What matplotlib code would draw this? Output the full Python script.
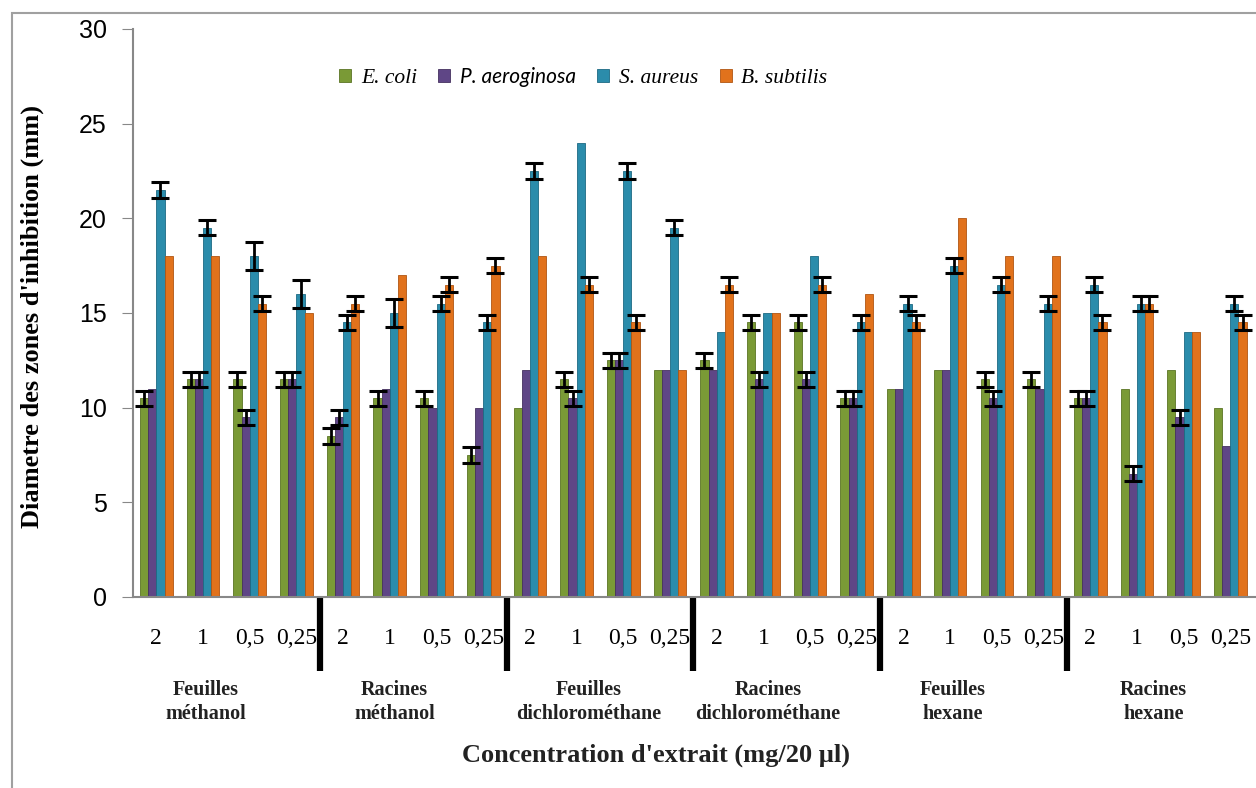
import numpy as np
import matplotlib
matplotlib.use("Agg")
import matplotlib.pyplot as plt
from matplotlib.patches import Rectangle

# donnees (diametre en mm)
concentrations = ['2', '1', '0,5', '0,25'] * 6
extraits = ['Feuilles\nméthanol', 'Racines\nméthanol', 'Feuilles\ndichlorométhane',
            'Racines\ndichlorométhane', 'Feuilles\nhexane', 'Racines\nhexane']
souches = ['E. coli', 'P. aeroginosa', 'S. aureus', 'B. subtilis']

e_coli = [10.5, 11.5, 11.5, 11.5, 8.5, 10.5, 10.5, 7.5, 10, 11.5, 12.5, 12,
          12.5, 14.5, 14.5, 10.5, 11, 12, 11.5, 11.5, 10.5, 11, 12, 10]
p_aeroginosa = [11, 11.5, 9.5, 11.5, 9.5, 11, 10, 10, 12, 10.5, 12.5, 12,
                12, 11.5, 11.5, 10.5, 11, 12, 10.5, 11, 10.5, 6.5, 9.5, 8]
s_aureus = [21.5, 19.5, 18, 16, 14.5, 15, 15.5, 14.5, 22.5, 24, 22.5, 19.5,
            14, 15, 18, 14.5, 15.5, 17.5, 16.5, 15.5, 16.5, 15.5, 14, 15.5]
b_subtilis = [18, 18, 15.5, 15, 15.5, 17, 16.5, 17.5, 18, 16.5, 14.5, 12,
              16.5, 15, 16.5, 16, 14.5, 20, 18, 18, 14.5, 15.5, 14, 14.5]

# ecarts (0 = pas de barre d'erreur)
err_e_coli = [0.4, 0.4, 0.4, 0.4, 0.4, 0.4, 0.4, 0.4, 0, 0.4, 0.4, 0,
              0.4, 0.4, 0.4, 0.4, 0, 0, 0.4, 0.4, 0.4, 0, 0, 0]
err_p_aeroginosa = [0, 0.4, 0.4, 0.4, 0.4, 0, 0, 0, 0, 0.4, 0.4, 0,
                    0, 0.4, 0.4, 0.4, 0, 0, 0.4, 0, 0.4, 0.4, 0.4, 0]
err_s_aureus = [0.4, 0.4, 0.75, 0.75, 0.4, 0.75, 0.4, 0.4, 0.4, 0, 0.4, 0.4,
                0, 0, 0, 0.4, 0.4, 0.4, 0.4, 0.4, 0.4, 0.4, 0, 0.4]
err_b_subtilis = [0, 0, 0.4, 0, 0.4, 0, 0.4, 0.4, 0, 0.4, 0.4, 0,
                  0.4, 0, 0.4, 0, 0.4, 0, 0, 0, 0.4, 0.4, 0, 0.4]

couleurs = ['#7a9a36', '#5f4686', '#2b8cab', '#e1721c']
bords = ['#5a7424', '#45315f', '#1d6a83', '#b05512']

fig = plt.figure(figsize=(12.56, 7.88), dpi=100)
ax = fig.add_axes([0.1059, 0.2424, 0.8941, 0.7208])

# cadre gris autour du graphique
fig.patches.append(Rectangle((12/1256, -0.1), 1.2, 1 - 13/788 + 0.1, transform=fig.transFigure,
                             fill=False, edgecolor='#a0a0a0', linewidth=1.5))

x = np.arange(len(concentrations))
w = 0.175
series = [e_coli, p_aeroginosa, s_aureus, b_subtilis]
erreurs = [err_e_coli, err_p_aeroginosa, err_s_aureus, err_b_subtilis]
for k in range(4):
    pos = x + (k - 1.5) * w
    ax.bar(pos, series[k], w, color=couleurs[k], edgecolor=bords[k], linewidth=0.6,
           label=souches[k], zorder=2)
    err = np.array(erreurs[k])
    sel = err > 0
    ax.errorbar(pos[sel], np.array(series[k])[sel], yerr=err[sel], fmt='none',
                ecolor='black', elinewidth=2, capsize=6.5, capthick=2.2, zorder=3)

ax.set_xlim(-0.5, 23.55)
ax.set_ylim(0, 30)
ax.set_yticks([0, 5, 10, 15, 20, 25, 30])
ax.set_xticks(x)
ax.set_xticklabels(concentrations, fontsize=17, family='Liberation Serif')
ax.tick_params(axis='x', length=0, pad=22)
ax.tick_params(axis='y', length=8, color='#888888', labelsize=18, pad=11)
for t in ax.get_yticklabels():
    t.set_family('Liberation Sans')

for s in ['top', 'right']:
    ax.spines[s].set_visible(False)
ax.spines['left'].set_color('#888888')
ax.spines['bottom'].set_color('#888888')
ax.spines['left'].set_linewidth(1.5)
ax.spines['bottom'].set_linewidth(1.5)

# separateurs noirs entre les extraits
trans = ax.get_xaxis_transform()
for sep in [3.5, 7.5, 11.5, 15.5, 19.5]:
    ax.plot([sep, sep], [0, -0.13], color='black', linewidth=4.5, transform=trans,
            clip_on=False, solid_capstyle='butt')

# noms des extraits
pos_extraits = [1.05, 5.1, 9.25, 13.1, 17.05, 21.35]
for px, nom in zip(pos_extraits, extraits):
    ax.text(px, -0.185, nom, transform=trans, ha='center', va='center', fontsize=14.5,
            fontweight='bold', family='Liberation Serif', color='#222222', linespacing=1.3)

ax.text(0.466, -0.278, "Concentration d'extrait (mg/20 µl)", transform=ax.transAxes,
        ha='center', va='center', fontsize=19, fontweight='bold', family='Liberation Serif',
        color='#222222')
fig.text(32/1256, 1 - 317/788, "Diametre des zones d'inhibition (mm)", rotation=90,
         ha='center', va='center', fontsize=19, fontweight='bold', family='Liberation Serif')

leg = ax.legend(loc='center', bbox_to_anchor=(0.401, 0.914), ncol=4, frameon=False,
                handlelength=0.55, handleheight=0.55, handletextpad=0.45, columnspacing=1.0,
                prop={'family': 'Liberation Serif', 'style': 'italic', 'size': 15.5})
leg.get_texts()[1].set_family('Lato')
leg.get_texts()[1].set_fontsize(15)

fig.savefig('out.png', dpi=100)
